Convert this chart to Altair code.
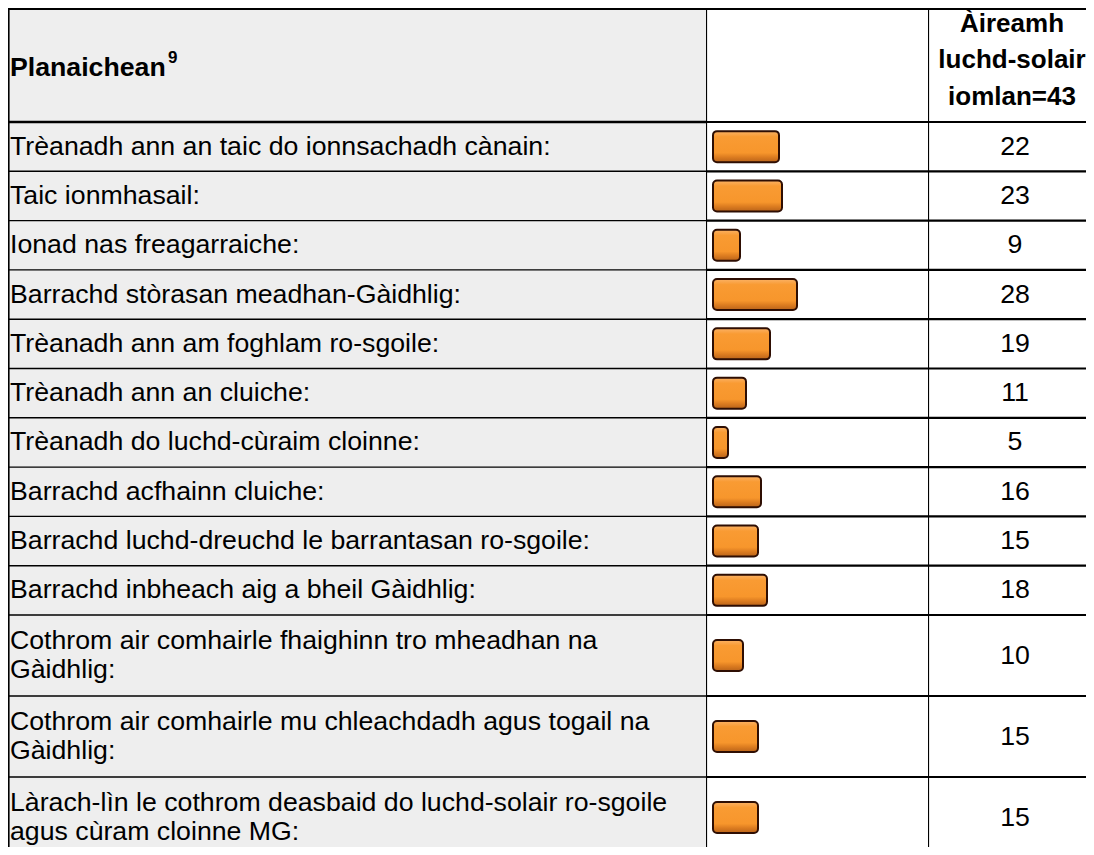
import altair as alt
import pandas as pd

# ---------------- data ----------------
labels = [
    "Trèanadh ann an taic do ionnsachadh cànain:",
    "Taic ionmhasail:",
    "Ionad nas freagarraiche:",
    "Barrachd stòrasan meadhan-Gàidhlig:",
    "Trèanadh ann am foghlam ro-sgoile:",
    "Trèanadh ann an cluiche:",
    "Trèanadh do luchd-cùraim cloinne:",
    "Barrachd acfhainn cluiche:",
    "Barrachd luchd-dreuchd le barrantasan ro-sgoile:",
    "Barrachd inbheach aig a bheil Gàidhlig:",
    "Cothrom air comhairle fhaighinn tro mheadhan na\nGàidhlig:",
    "Cothrom air comhairle mu chleachdadh agus togail na\nGàidhlig:",
    "Làrach-lìn le cothrom deasbaid do luchd-solair ro-sgoile\nagus cùram cloinne MG:",
]
values = [22, 23, 9, 28, 19, 11, 5, 16, 15, 18, 10, 15, 15]
header_label = "Planaichean"
header_note = "9"
header_count = ["Àireamh", "luchd-solair", "iomlan=43"]

# ---------------- layout ----------------
FONT = "Liberation Sans"
FS = 26.7
W_TOTAL = 1078
H = 839
COL1 = 698
COL2 = 222
COL3 = W_TOTAL - COL1 - COL2
NUM_X = 87            # centre of the count column, from its left edge
HEADER_H = 114
ROW_H = {1: 49.3, 2: 81.0}
LABEL_LH = 29
HEAD_LH = 36.5
BAR_H = 31
BAR_PX_PER_UNIT = 3.0
BAR_START = 7
GREY = "#eeeeee"

rows = pd.DataFrame({"label": labels, "value": values})
rows["lines"] = rows["label"].str.count("\n") + 1
heights = rows["lines"].map(ROW_H)
rows["bottom"] = HEADER_H + heights.cumsum()
rows["top"] = rows["bottom"] - heights
rows["mid"] = (rows["top"] + rows["bottom"]) / 2
rows["text_y"] = rows["mid"] - (rows["lines"] - 1) * LABEL_LH / 2
rows["bar_top"] = rows["mid"] - BAR_H / 2
rows["bar_bot"] = rows["mid"] + BAR_H / 2
rows["num"] = rows["value"].astype(str)
rows["zero"] = 0

bounds = [HEADER_H] + [b for b in rows["bottom"] if b < H]
hlines = pd.DataFrame({"y": bounds, "w": [2.4] + [1.4] * (len(bounds) - 1)})
hlines_thick = pd.DataFrame({"y": bounds})

yscale = alt.Scale(domain=[0, H], reverse=True, nice=False, zero=False)


def xs(w):
    return alt.Scale(domain=[0, w], nice=False, zero=False)


def frame(width, line_w, left_x, left_w):
    """horizontal row lines, top border and left vertical border for a column"""
    top = alt.Chart(pd.DataFrame({"y": [1], "x0": [0], "x1": [width]})).mark_rule(
        color="black", strokeWidth=2, clip=True
    ).encode(x=alt.X("x0:Q", scale=xs(width), axis=None), x2="x1:Q",
             y=alt.Y("y:Q", scale=yscale, axis=None))
    if line_w is None:
        hl = alt.Chart(hlines.assign(x0=0, x1=width)).mark_rule(color="black", clip=True).encode(
            x=alt.X("x0:Q", scale=xs(width), axis=None), x2="x1:Q",
            y=alt.Y("y:Q", scale=yscale, axis=None),
            strokeWidth=alt.StrokeWidth("w:Q", scale=None, legend=None))
    else:
        hl = alt.Chart(hlines_thick.assign(x0=0, x1=width)).mark_rule(
            color="black", strokeWidth=line_w, clip=True
        ).encode(x=alt.X("x0:Q", scale=xs(width), axis=None), x2="x1:Q",
                 y=alt.Y("y:Q", scale=yscale, axis=None))
    vl = alt.Chart(pd.DataFrame({"x": [left_x], "y0": [0], "y1": [H]})).mark_rule(
        color="black", strokeWidth=left_w, clip=True
    ).encode(x=alt.X("x:Q", scale=xs(width), axis=None),
             y=alt.Y("y0:Q", scale=yscale, axis=None), y2="y1:Q")
    return [hl, top, vl]


# ---------------- column 1: labels ----------------
bg = alt.Chart(pd.DataFrame({"x0": [0], "x1": [COL1], "y0": [0], "y1": [H]})).mark_rect(
    color=GREY, clip=True
).encode(x=alt.X("x0:Q", scale=xs(COL1), axis=None), x2="x1:Q",
         y=alt.Y("y0:Q", scale=yscale, axis=None), y2="y1:Q")

lab = alt.Chart(rows.assign(x=2)).mark_text(
    font=FONT, fontSize=FS, align="left", baseline="middle", lineBreak="\n",
    color="black", lineHeight=LABEL_LH, clip=True
).encode(x=alt.X("x:Q", scale=xs(COL1), axis=None),
         y=alt.Y("text_y:Q", scale=yscale, axis=None), text="label:N")

head1 = alt.Chart(pd.DataFrame({"t": [header_label], "x": [2], "y": [HEADER_H / 2 + 2.6]})).mark_text(
    font=FONT, fontSize=FS, fontWeight="bold", align="left", baseline="middle",
    color="black", clip=True
).encode(x=alt.X("x:Q", scale=xs(COL1), axis=None),
         y=alt.Y("y:Q", scale=yscale, axis=None), text="t:N")

note = alt.Chart(pd.DataFrame({"t": [header_note], "x": [160], "y": [HEADER_H / 2 - 7]})).mark_text(
    font=FONT, fontSize=17, fontWeight="bold", align="left", baseline="middle",
    color="black", clip=True
).encode(x=alt.X("x:Q", scale=xs(COL1), axis=None),
         y=alt.Y("y:Q", scale=yscale, axis=None), text="t:N")

panel_a = alt.layer(bg, *frame(COL1, None, 0.8, 1.6), lab, head1, note).properties(
    width=COL1, height=H)

# ---------------- column 2: bars ----------------
bar_fill = alt.Gradient(
    gradient="linear", x1=0, y1=0, x2=0, y2=1,
    stops=[
        alt.GradientStop(color="#fbb266", offset=0),
        alt.GradientStop(color="#f99b33", offset=0.18),
        alt.GradientStop(color="#f7962c", offset=0.7),
        alt.GradientStop(color="#dc7c20", offset=0.84),
        alt.GradientStop(color="#b9631a", offset=1),
    ],
)
bscale = alt.Scale(domain=[-BAR_START / BAR_PX_PER_UNIT, (COL2 - BAR_START) / BAR_PX_PER_UNIT],
                   nice=False, zero=False)
bars = alt.Chart(rows).mark_rect(
    fill=bar_fill, stroke="#2e0e03", strokeWidth=2, cornerRadius=4, clip=True
).encode(x=alt.X("zero:Q", scale=bscale, axis=None), x2="value:Q",
         y=alt.Y("bar_top:Q", scale=yscale, axis=None), y2="bar_bot:Q")

panel_b = alt.layer(*frame(COL2, 2.2, 0, 2.2), bars).resolve_scale(x="independent").properties(
    width=COL2, height=H)

# ---------------- column 3: counts ----------------
nums = alt.Chart(rows.assign(x=NUM_X)).mark_text(
    font=FONT, fontSize=FS, align="center", baseline="middle", color="black", clip=True
).encode(x=alt.X("x:Q", scale=xs(COL3), axis=None),
         y=alt.Y("mid:Q", scale=yscale, axis=None), text="num:N")

head3 = alt.Chart(pd.DataFrame({"t": ["\n".join(header_count)], "x": [NUM_X - 3],
                                "y": [HEADER_H / 2 - 5 - HEAD_LH]})).mark_text(
    font=FONT, fontSize=26, fontWeight="bold", align="center", baseline="middle",
    color="black", lineBreak="\n", lineHeight=HEAD_LH, clip=True
).encode(x=alt.X("x:Q", scale=xs(COL3), axis=None),
         y=alt.Y("y:Q", scale=yscale, axis=None), text="t:N")

panel_c = alt.layer(*frame(COL3, 2.2, 0, 2.2), nums, head3).properties(width=COL3, height=H)

chart = alt.hconcat(panel_a, panel_b, panel_c, spacing=0, bounds="flush").resolve_scale(
    x="independent", y="independent"
).properties(padding=0, background="white").configure_view(stroke=None)

chart.save("out.html", embed_options={"renderer": "svg", "actions": False})
